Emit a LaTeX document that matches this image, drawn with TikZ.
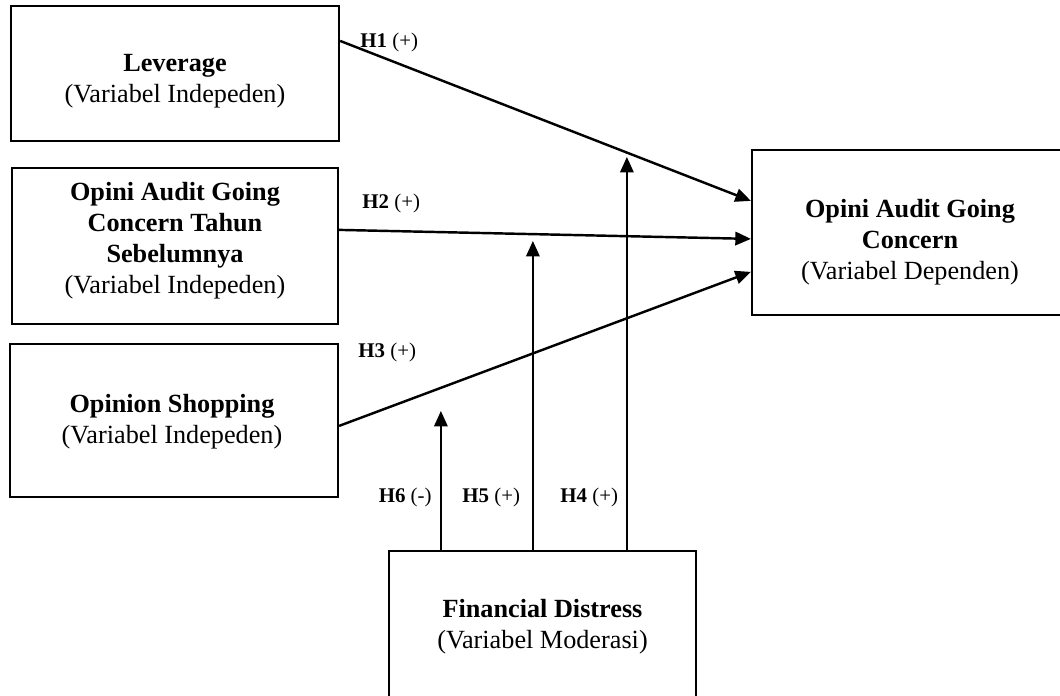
\documentclass[tikz,border=0pt]{standalone}
\usepackage{fontspec}
\setmainfont{Liberation Serif}
\usetikzlibrary{arrows.meta,calc,fit}
\begin{document}
\begin{tikzpicture}[x=0.45pt,y=-0.45pt,
  box/.style={draw, line width=1pt, inner sep=0pt},
  txt/.style={align=center, font=\fontsize{11.8}{13.9}\selectfont, inner sep=0pt},
  hlab/.style={font=\fontsize{9.4}{11}\selectfont, inner sep=0pt},
  conn/.style={line width=1.1pt, -{Triangle[length=7pt,width=6pt]}}]
\clip (0,0) rectangle (1060,695);
% boxes
\node[box, fit={(11,6) (339,141)}] (lev) {};
\node[box, fit={(12,168) (338,324)}] (oag) {};
\node[box, fit={(10,344) (338,497)}] (os) {};
\node[box, fit={(752,150) (1070,315)}] (dep) {};
\node[box, fit={(389,551) (696,730)}] (fd) {};
% texts
\node[txt] (levt) at (175,81) {\textbf{Leverage}\\(Variabel Indepeden)};
\node[txt] (oagt) at (175,241) {\textbf{Opini Audit Going}\\\textbf{Concern Tahun}\\\textbf{Sebelumnya}\\(Variabel Indepeden)};
\node[txt] (ost) at (172,422) {\textbf{Opinion Shopping}\\(Variabel Indepeden)};
\node[txt] (dept) at (910,242) {\textbf{Opini Audit Going}\\\textbf{Concern}\\(Variabel Dependen)};
\node[txt] (fdt) at (542.5,627) {\textbf{Financial Distress}\\(Variabel Moderasi)};
% connectors
\draw[conn] ($(lev.north east)+(0,36)$) -- ($(dep.north west)+(0,52)$);
\draw[conn] ($(oag.north east)+(0,63)$) -- ($(dep.north west)+(0,90)$);
\draw[conn] ($(os.north east)+(0,83)$) -- ($(dep.north west)+(0,123)$);
\draw[conn] ($(fd.north west)+(53,0)$) -- ++(0,-139);
\draw[conn] ($(fd.north west)+(145,0)$) -- ++(0,-309);
\draw[conn] ($(fd.north west)+(239,0)$) -- ++(0,-393);
% labels
\node[hlab, anchor=west] (l1) at (360,42) {\textbf{H1} (+)};
\node[hlab, anchor=west] (l2) at (362,203) {\textbf{H2} (+)};
\node[hlab, anchor=west] (l3) at (358,352) {\textbf{H3} (+)};
\node[hlab, anchor=east] (l6) at (432,497) {\textbf{H6} (-)};
\node[hlab, anchor=west] (l5) at (462,497) {\textbf{H5} (+)};
\node[hlab, anchor=west] (l4) at (560,497) {\textbf{H4} (+)};
\end{tikzpicture}
\end{document}
